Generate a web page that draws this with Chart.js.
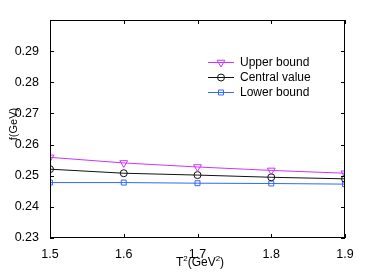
<!DOCTYPE html>
<html>
<head>
<meta charset="utf-8">
<script src="https://cdn.jsdelivr.net/npm/chart.js@4"></script>
<style>
  html, body { margin: 0; padding: 0; background: #fff; }
  #wrap { width: 382px; height: 273px; }
</style>
</head>
<body>
<div id="wrap"><canvas id="grafico" width="382" height="273"></canvas></div>
<script>
// dados
const xVals = [1.5, 1.6, 1.7, 1.8, 1.9];
const upperBound = [0.2559, 0.2541, 0.2528, 0.2517, 0.2508];
const centralValue = [0.2521, 0.2508, 0.2502, 0.2495, 0.2490];
const lowerBound = [0.2478, 0.2478, 0.2476, 0.2475, 0.2473];
const seriesNames = ['Upper bound', 'Central value', 'Lower bound'];

const corUpper = '#cc33ff';
const corCentral = '#111111';
const corLower = '#3366ff';
const fonte = '"Liberation Sans", Arial, sans-serif';

function pontos(ys) {
    return xVals.map((x, i) => ({ x: x, y: ys[i] }));
}

// ticks para dentro + caixa + legenda + títulos dos eixos
const estiloMatlab = {
    id: 'estiloMatlab',
    afterDraw(chart) {
        const ctx = chart.ctx;
        const a = chart.chartArea;
        const sx = chart.scales.x, sy = chart.scales.y;
        const tl = 4;
        ctx.save();
        ctx.strokeStyle = '#000';
        ctx.lineWidth = 1;
        ctx.strokeRect(a.left + 0.5, a.top + 0.5, a.right - a.left - 1, a.bottom - a.top - 1);
        ctx.beginPath();
        sx.ticks.forEach(t => {
            const p = Math.round(sx.getPixelForValue(t.value)) + 0.5;
            ctx.moveTo(p, a.bottom); ctx.lineTo(p, a.bottom - tl);
            ctx.moveTo(p, a.top); ctx.lineTo(p, a.top + tl);
        });
        sy.ticks.forEach(t => {
            const p = Math.round(sy.getPixelForValue(t.value)) + 0.5;
            ctx.moveTo(a.left, p); ctx.lineTo(a.left + tl, p);
            ctx.moveTo(a.right, p); ctx.lineTo(a.right - tl, p);
        });
        ctx.stroke();

        // legenda (sem caixa)
        const cores = [corUpper, corCentral, corLower];
        const linhasY = [62, 77, 92];
        chart.data.datasets.forEach((ds, i) => {
            const y = linhasY[i];
            ctx.strokeStyle = cores[i];
            ctx.fillStyle = 'rgba(0,0,0,0)';
            ctx.lineWidth = 1;
            ctx.beginPath();
            ctx.moveTo(208, y + 0.5); ctx.lineTo(234, y + 0.5);
            ctx.stroke();
            Chart.helpers.drawPoint(ctx, {
                pointStyle: ds.pointStyle,
                rotation: ds.pointRotation || 0,
                radius: ds.pointRadius,
                borderWidth: 1
            }, 221, y + 0.5);
            ctx.fillStyle = '#000';
            ctx.font = '12px ' + fonte;
            ctx.textBaseline = 'middle';
            ctx.textAlign = 'left';
            ctx.fillText(seriesNames[i], 240, y + 1);
        });

        // título do eixo x: T²(GeV²)
        ctx.fillStyle = '#000';
        ctx.textBaseline = 'alphabetic';
        const partes = [['T', 12, 0], ['2', 8, -5], ['(GeV', 12, 0], ['2', 8, -5], [')', 12, 0]];
        let larg = 0;
        partes.forEach(p => { ctx.font = p[1] + 'px ' + fonte; larg += ctx.measureText(p[0]).width; });
        let xx = 200 - larg / 2;
        partes.forEach(p => {
            ctx.font = p[1] + 'px ' + fonte;
            ctx.fillText(p[0], xx, 266 + p[2]);
            xx += ctx.measureText(p[0]).width;
        });

        // título do eixo y
        ctx.translate(17, 124);
        ctx.rotate(-Math.PI / 2);
        ctx.font = '11px ' + fonte;
        ctx.textAlign = 'center';
        ctx.textBaseline = 'alphabetic';
        ctx.fillText('f(GeV)', 0, 0);
        ctx.restore();
    }
};

new Chart(document.getElementById('grafico'), {
    type: 'line',
    data: {
        datasets: [
            {
                label: seriesNames[0],
                data: pontos(upperBound),
                borderColor: corUpper,
                backgroundColor: 'rgba(0,0,0,0)',
                pointBackgroundColor: 'rgba(0,0,0,0)',
                pointBorderColor: corUpper,
                pointStyle: 'triangle',
                pointRotation: 180,
                pointRadius: 4.5,
                borderWidth: 1,
                pointBorderWidth: 1
            },
            {
                label: seriesNames[1],
                data: pontos(centralValue),
                borderColor: corCentral,
                backgroundColor: 'rgba(0,0,0,0)',
                pointBackgroundColor: 'rgba(0,0,0,0)',
                pointBorderColor: corCentral,
                pointStyle: 'circle',
                pointRadius: 3.5,
                borderWidth: 1,
                pointBorderWidth: 1
            },
            {
                label: seriesNames[2],
                data: pontos(lowerBound),
                borderColor: corLower,
                backgroundColor: 'rgba(0,0,0,0)',
                pointBackgroundColor: 'rgba(0,0,0,0)',
                pointBorderColor: corLower,
                pointStyle: 'rect',
                pointRadius: 3.5,
                borderWidth: 1,
                pointBorderWidth: 1
            }
        ]
    },
    options: {
        responsive: false,
        animation: false,
        devicePixelRatio: 1,
        layout: { padding: { left: 0, right: 37, top: 20, bottom: 0 } },
        plugins: { legend: { display: false }, tooltip: { enabled: false } },
        elements: { line: { tension: 0 } },
        scales: {
            x: {
                type: 'linear',
                min: 1.5,
                max: 1.9,
                grid: { display: false },
                border: { display: false },
                ticks: {
                    stepSize: 0.1,
                    padding: 1,
                    color: '#000',
                    font: { family: fonte, size: 12.5 },
                    maxRotation: 0,
                    callback: v => v.toFixed(1)
                },
                afterFit: s => { s.height = 35; }
            },
            y: {
                min: 0.23,
                max: 0.30,
                grid: { display: false },
                border: { display: false },
                ticks: {
                    stepSize: 0.01,
                    padding: 3,
                    color: '#000',
                    font: { family: fonte, size: 12.5 },
                    callback: v => (v > 0.295 ? '' : v.toFixed(2))
                },
                afterFit: s => { s.width = 50; }
            }
        }
    },
    plugins: [estiloMatlab]
});
</script>
</body>
</html>
